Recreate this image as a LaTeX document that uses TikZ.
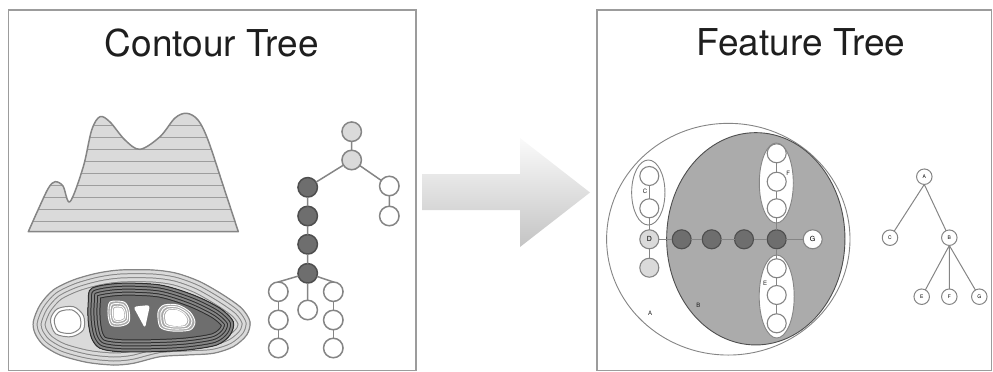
\documentclass[tikz,border=0pt]{standalone}
\usepackage{fontspec}
\setmainfont{TeX Gyre Heros}
\usetikzlibrary{shapes.geometric}
\definecolor{panelgray}{HTML}{9C9C9C}
\definecolor{titleink}{HTML}{1E1E1E}
\definecolor{linegray}{HTML}{858585}
\definecolor{lightfill}{HTML}{DADADA}
\definecolor{darkfill}{HTML}{6E6E6E}
\definecolor{darkline}{HTML}{4E4E4E}
\definecolor{regionfill}{HTML}{ABABAB}
\definecolor{ringdark}{HTML}{2E2E2E}
\definecolor{holefill}{HTML}{A8A8A8}
\definecolor{arrowtop}{HTML}{FAFAFA}
\definecolor{arrowbot}{HTML}{C4C4C4}
\tikzset{
  mountain/.style={insert path={plot[smooth,tension=0.55] coordinates {(28.3,231.7) (38,210) (48.3,188.3) (55,181.7) (63,186) (70,201.7) (83.3,166.7) (91.7,130) (100,116.7) (110,122) (125,140) (140,149.3) (160,136.7) (175,118) (186.7,113.3) (198,120) (208,140) (223.3,186) (238.3,231.7)} -- cycle}},
  outerblob/.style={insert path={plot[smooth cycle] coordinates {(33.3,321.7) (40,305) (53.3,290) (73.3,280) (96.7,273.3) (120,270) (153.3,270) (176.7,273.3) (200,281.7) (223.3,295) (241.7,308.3) (250,321.7) (246.7,335) (233.3,346.7) (213.3,353.3) (186.7,355) (160,356.7) (133.3,363.3) (113.3,365) (86.7,362.3) (60,355) (43.3,345) (35,333.3)}}},
  darkblob/.style={insert path={plot[smooth cycle] coordinates {(91.7,288.3) (120,283.3) (160,285) (193.3,295) (220,308.3) (233.3,321.7) (230,335) (216.7,345) (186.7,350) (153.3,351.7) (120,351.7) (100,348.3) (91.7,338.3) (88.3,321.7) (88.3,301.7)}}},
  lobe/.style={insert path={plot[smooth cycle,tension=0.5] coordinates {(-17,-2) (-10,-13) (6,-15) (16,-6) (16,8) (4,15) (-12,12)}}},
  holeone/.style={insert path={plot[smooth cycle,tension=0.5] coordinates {(-9,-12) (5,-12) (10,-4) (10,8) (2,12) (-8,11) (-11,0)}}},
  holethree/.style={insert path={plot[smooth cycle,tension=0.5] coordinates {(-18,-6) (-12,-13) (2,-13) (14,-6) (19,4) (14,12) (-4,13) (-16,9)}}}
}
\begin{document}
\begin{tikzpicture}[x=1pt,y=-1pt,
  every node/.style={inner sep=0pt,outer sep=0pt},
  panel/.style={draw=panelgray,line width=1.5pt},
  title/.style={anchor=base,font=\fontsize{37}{40}\selectfont,text=titleink},
  ctnode/.style={circle,draw=linegray,line width=1.5pt,minimum size=19.5pt,fill=white},
  lightnode/.style={ctnode,fill=lightfill},
  darknode/.style={ctnode,fill=darkfill,draw=darkline},
  ftnode/.style={ctnode,line width=1.1pt,minimum size=19pt,font=\fontsize{7}{7}\selectfont},
  treenode/.style={circle,draw=linegray,line width=1pt,minimum size=15.5pt,fill=white,font=\fontsize{5}{5}\selectfont},
  group/.style={ellipse,draw=linegray,line width=0.9pt,fill=white},
  tag/.style={font=\fontsize{6}{6}\selectfont,text=titleink},
  link/.style={draw=linegray,line width=1.5pt}]
\useasboundingbox (0,0) rectangle (993,372);
\draw[panel] (8.5,10) rectangle (416,370.5);
\draw[panel] (597,10) rectangle (991.5,370.5);
\node[title] (cttitle) at (211.7,56.7) {Contour Tree};
\node[title] (fttitle) at (801,55) {Feature Tree};
\shade[top color=arrowtop,bottom color=arrowbot] (422,174) -- (520,174) -- (520,138) -- (590,192.5) -- (520,247) -- (520,210) -- (422,210) -- cycle;
\fill[lightfill,mountain];
\begin{scope}
  \clip[mountain];
  \foreach \y in {125,137,...,221} \draw[linegray!80,line width=0.9pt] (20,\y) -- (245,\y);
\end{scope}
\draw[linegray,line width=1.5pt,line join=round,mountain];
\begin{scope}
  \fill[lightfill,outerblob];
  \clip[outerblob];
  \foreach \a/\b in {25/23,17/15,9/7} {
    \draw[linegray,line width=\a pt,outerblob];
    \draw[lightfill,line width=\b pt,outerblob];
  }
\end{scope}
\draw[linegray,line width=1.2pt,outerblob];
\begin{scope}[shift={(67.5,321.7)}]
  \fill[white,lobe];
  \draw[linegray,line width=1pt,lobe];
  \draw[linegray,line width=1pt,scale=0.78,lobe];
\end{scope}
\begin{scope}
  \fill[darkfill,darkblob];
  \clip[darkblob];
  \foreach \a/\b in {25/23,19/17,13/11,7/5} {
    \draw[ringdark,line width=\a pt,darkblob];
    \draw[linegray,line width=\b pt,darkblob];
  }
\end{scope}
\draw[ringdark,line width=1pt,darkblob];
\begin{scope}[shift={(119,314)}]
  \fill[holefill,holeone];
  \foreach \s in {1,0.8,0.6} \draw[white,line width=0.9pt,scale=\s,holeone];
  \fill[white,scale=0.5,holeone];
\end{scope}
\fill[white,rounded corners=3pt] (133.3,306.7) -- (150,305) -- (145,328.3) -- cycle;
\begin{scope}[shift={(176,318)}]
  \fill[holefill,holethree];
  \foreach \s in {1,0.84,0.68} \draw[white,line width=0.9pt,scale=\s,holethree];
  \fill[white,scale=0.6,holethree];
\end{scope}
\node[lightnode] (ct1) at (351.7,131.7) {};
\node[lightnode] (ct2) at (351.7,160) {};
\node[ctnode] (cr1) at (389.3,186) {};
\node[ctnode] (cr2) at (389.3,216) {};
\foreach \i/\y in {1/187.3,2/216,3/244.3,4/273.3} \node[darknode] (cd\i) at (307.7,\y) {};
\foreach \i/\y in {1/291.7,2/320,3/348} {
  \node[ctnode] (cl\i) at (278.3,\y) {};
  \node[ctnode] (cq\i) at (333.3,\y) {};
}
\node[ctnode] (cm) at (307.7,310) {};
\draw[link] (ct1) -- (ct2) -- (cd1) -- (cd2) -- (cd3) -- (cd4) -- (cm);
\draw[link] (ct2) -- (cr1) -- (cr2);
\draw[link] (cd4) -- (cl1.north) (cd4) -- (cq1.north);
\draw[link] (cl1) -- (cl2) -- (cl3) (cq1) -- (cq2) -- (cq3);
\node[group,minimum width=243.4pt,minimum height=231.7pt] (regA) at (728.3,239.2) {};
\node[group,fill=regionfill,draw=darkline,minimum width=178.3pt,minimum height=212.3pt] (regB) at (755.8,238.8) {};
\node[group,minimum width=33.3pt,minimum height=65pt] (grpC) at (648.3,192.5) {};
\node[group,minimum width=34pt,minimum height=80pt] (grpF) at (776.3,183) {};
\node[group,minimum width=35pt,minimum height=83pt] (grpE) at (776.7,296.5) {};
\node[ftnode] (fC1) at (649.3,176) {};
\node[ftnode] (fC2) at (649.3,208.3) {};
\node[ftnode,fill=lightfill] (fD) at (649.3,239.3) {D};
\node[ftnode,fill=lightfill] (fL) at (649.3,267.7) {};
\foreach \i/\x in {1/681.7,2/711.7,3/744,4/776.7} \node[ftnode,fill=darkfill,draw=darkline] (fK\i) at (\x,239.3) {};
\node[ftnode] (fG) at (812.7,239.3) {G};
\foreach \i/\y in {1/153.3,2/181.7,3/208.3} \node[ftnode] (fF\i) at (776.7,\y) {};
\foreach \i/\y in {1/268.3,2/295,3/323.3} \node[ftnode] (fE\i) at (776.7,\y) {};
\draw[link,line width=1.2pt] (fC1) -- (fC2) -- (fD) -- (fL);
\draw[link,line width=1.2pt] (fD) -- (fK1) -- (fK2) -- (fK3) -- (fK4) -- (fG);
\draw[link,line width=1.2pt] (fF1) -- (fF2) -- (fF3) -- (fK4) -- (fE1) -- (fE2) -- (fE3);
\node[tag] (tagC) at (645,191.7) {C};
\node[tag] (tagF) at (788.3,173.3) {F};
\node[tag] (tagE) at (765,283.3) {E};
\node[tag] (tagA) at (650,313.3) {A};
\node[tag] (tagB) at (698.3,305) {B};
\node[treenode] (tA) at (924.3,176.7) {A};
\node[treenode] (tC) at (890,237.7) {C};
\node[treenode] (tB) at (949.3,237.7) {B};
\node[treenode] (tE) at (921.7,296.7) {E};
\node[treenode] (tF) at (949.3,296.7) {F};
\node[treenode] (tG) at (979.3,296.7) {G};
\draw[link,line width=1pt] (tA.south) -- (tC) (tA.south) -- (tB);
\draw[link,line width=1pt] (tB.south) -- (tE) (tB.south) -- (tF) (tB.south) -- (tG);
\end{tikzpicture}
\end{document}
